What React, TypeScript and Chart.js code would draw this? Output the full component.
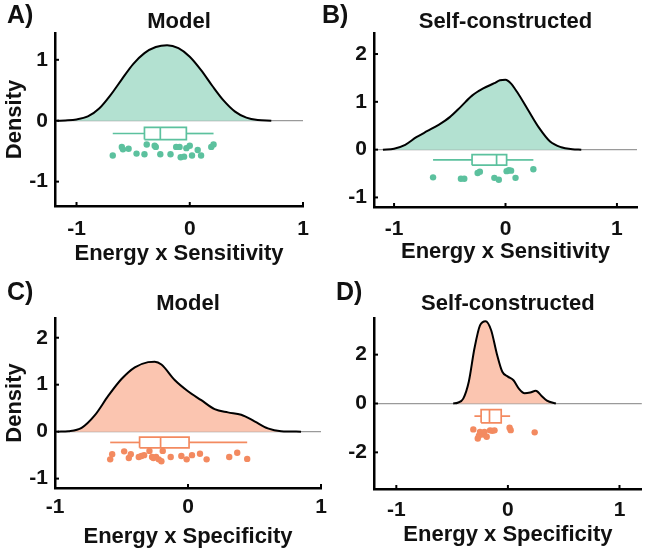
import React, { useEffect, useRef } from "react";
import { Chart, registerables } from "chart.js";
Chart.register(...registerables);

const FONT = '"Liberation Sans", Arial, Helvetica, sans-serif';

// ---------- Panel A: Model, Energy x Sensitivity ----------
const densA_x = [-1.17, -1.1, -1.0, -0.9, -0.8, -0.7, -0.6, -0.5, -0.4, -0.3, -0.2, -0.1, 0, 0.1, 0.2, 0.3, 0.4, 0.5, 0.6, 0.72];
const densA_y = [0, 0.005, 0.02, 0.07, 0.2, 0.42, 0.68, 0.93, 1.11, 1.21, 1.24, 1.19, 1.05, 0.83, 0.57, 0.33, 0.15, 0.05, 0.01, 0];
const boxA = [-0.68, -0.4, -0.26, -0.03, 0.21]; // whisker low, Q1, median, Q3, whisker high
const ptsA_x = [-0.68, -0.6, -0.59, -0.54, -0.47, -0.4, -0.38, -0.31, -0.3, -0.26, -0.17, -0.12, -0.09, -0.08, -0.05, -0.03, 0.0, 0.02, 0.07, 0.1, 0.19, 0.21];
const ptsA_y = [-0.57, -0.43, -0.47, -0.46, -0.54, -0.55, -0.39, -0.41, -0.43, -0.55, -0.55, -0.43, -0.43, -0.6, -0.59, -0.45, -0.41, -0.57, -0.48, -0.57, -0.43, -0.39];
const xTicksA = [-1, 0, 1];
const yTicksA = [-1, 0, 1];

// ---------- Panel B: Self-constructed, Energy x Sensitivity ----------
const densB_x = [-1.1, -1.0, -0.9, -0.8, -0.7, -0.6, -0.5, -0.4, -0.3, -0.2, -0.1, -0.05, 0, 0.05, 0.1, 0.2, 0.3, 0.4, 0.5, 0.6, 0.68];
const densB_y = [0, 0.02, 0.1, 0.26, 0.39, 0.52, 0.68, 0.9, 1.13, 1.28, 1.39, 1.45, 1.46, 1.38, 1.22, 0.84, 0.46, 0.17, 0.05, 0.01, 0];
const boxB = [-0.65, -0.3, -0.08, 0.01, 0.25];
const ptsB_x = [-0.65, -0.4, -0.37, -0.25, -0.23, -0.1, -0.06, 0.01, 0.03, 0.05, 0.09, 0.25];
const ptsB_y = [-0.58, -0.61, -0.61, -0.49, -0.46, -0.59, -0.63, -0.45, -0.43, -0.44, -0.59, -0.41];
const xTicksB = [-1, 0, 1];
const yTicksB = [-1, 0, 1, 2];

// ---------- Panel C: Model, Energy x Specificity ----------
const densC_x = [-0.98, -0.9, -0.8, -0.7, -0.6, -0.5, -0.4, -0.3, -0.25, -0.2, -0.1, 0, 0.1, 0.2, 0.3, 0.4, 0.5, 0.6, 0.7, 0.85];
const densC_y = [0, 0.01, 0.08, 0.35, 0.76, 1.12, 1.37, 1.48, 1.49, 1.43, 1.1, 0.86, 0.67, 0.48, 0.41, 0.36, 0.22, 0.07, 0.01, 0];
const boxC = [-0.585, -0.364, -0.206, 0.008, 0.445];
const ptsC_x = [-0.585, -0.57, -0.48, -0.445, -0.43, -0.37, -0.35, -0.33, -0.29, -0.27, -0.26, -0.24, -0.22, -0.2, -0.19, -0.13, -0.05, -0.01, 0.03, 0.09, 0.14, 0.31, 0.37, 0.445];
const ptsC_y = [-0.59, -0.48, -0.42, -0.56, -0.48, -0.54, -0.52, -0.5, -0.41, -0.54, -0.56, -0.54, -0.59, -0.63, -0.41, -0.54, -0.52, -0.59, -0.5, -0.47, -0.59, -0.54, -0.45, -0.58];
const xTicksC = [-1, 0, 1];
const yTicksC = [-1, 0, 1, 2];

// ---------- Panel D: Self-constructed, Energy x Specificity ----------
const densD_x = [-0.49, -0.45, -0.4, -0.35, -0.3, -0.25, -0.2, -0.15, -0.1, -0.05, 0, 0.05, 0.1, 0.15, 0.2, 0.25, 0.3, 0.35, 0.43];
const densD_y = [0, 0.03, 0.2, 0.9, 2.25, 3.2, 3.37, 3.0, 2.05, 1.3, 1.1, 0.95, 0.6, 0.42, 0.45, 0.52, 0.32, 0.12, 0];
const boxD = [-0.3, -0.24, -0.165, -0.06, 0.02];
const ptsD_x = [-0.31, -0.27, -0.26, -0.25, -0.22, -0.21, -0.19, -0.16, -0.14, -0.12, 0.015, 0.025, 0.24];
const ptsD_y = [-1.06, -1.43, -1.32, -1.16, -1.27, -1.16, -1.36, -1.1, -1.12, -1.1, -0.99, -1.09, -1.18];
const xTicksD = [-1, 0, 1];
const yTicksD = [-2, 0, 2];

const TEAL_FILL = "rgb(179,225,209)";
const TEAL = "rgb(92,193,158)";
const ORANGE_FILL = "rgb(251,197,176)";
const ORANGE = "rgb(243,138,96)";

type PanelCfg = {
  label: string; title: string; xTitle: string; yTitle: string | null;
  dx: number[]; dy: number[]; box: number[]; px: number[]; py: number[];
  xt: number[]; yt: number[];
  xmin: number; xmax: number; ymin: number; ymax: number;
  L: number; T: number; R: number; B: number; yW: number; xH: number;
  boxY: number; boxH: number; fill: string; accent: string;
  labelX: number; labelY: number; titleY: number; xTickPad: number; yTickPad: number;
};

const panels: PanelCfg[] = [
  {
    label: "A)", title: "Model", xTitle: "Energy x Sensitivity", yTitle: "Density",
    dx: densA_x, dy: densA_y, box: boxA, px: ptsA_x, py: ptsA_y, xt: xTicksA, yt: yTicksA,
    xmin: -1.19, xmax: 1, ymin: -1.4, ymax: 1.44,
    L: 55, T: 33, R: 303, B: 206, yW: 55, xH: 69,
    boxY: -0.21, boxH: 0.1, fill: TEAL_FILL, accent: TEAL,
    labelX: 7, labelY: 23, titleY: 28, xTickPad: 11, yTickPad: 7,
  },
  {
    label: "B)", title: "Self-constructed", xTitle: "Energy x Sensitivity", yTitle: null,
    dx: densB_x, dy: densB_y, box: boxB, px: ptsB_x, py: ptsB_y, xt: xTicksB, yt: yTicksB,
    xmin: -1.18, xmax: 1.18, ymin: -1.2, ymax: 2.44,
    L: 374, T: 33, R: 637, B: 207, yW: 52, xH: 66,
    boxY: -0.215, boxH: 0.11, fill: TEAL_FILL, accent: TEAL,
    labelX: 322, labelY: 23, titleY: 28, xTickPad: 10, yTickPad: 7,
  },
  {
    label: "C)", title: "Model", xTitle: "Energy x Specificity", yTitle: "Density",
    dx: densC_x, dy: densC_y, box: boxC, px: ptsC_x, py: ptsC_y, xt: xTicksC, yt: yTicksC,
    xmin: -1, xmax: 1, ymin: -1.2, ymax: 2.42,
    L: 55, T: 318, R: 321, B: 488, yW: 55, xH: 70,
    boxY: -0.23, boxH: 0.115, fill: ORANGE_FILL, accent: ORANGE,
    labelX: 7, labelY: 300, titleY: 310, xTickPad: 7, yTickPad: 7,
  },
  {
    label: "D)", title: "Self-constructed", xTitle: "Energy x Specificity", yTitle: null,
    dx: densD_x, dy: densD_y, box: boxD, px: ptsD_x, py: ptsD_y, xt: xTicksD, yt: yTicksD,
    xmin: -1.2, xmax: 1.2, ymin: -3.5, ymax: 3.5,
    L: 374, T: 318, R: 642, B: 489, yW: 52, xH: 67,
    boxY: -0.52, boxH: 0.27, fill: ORANGE_FILL, accent: ORANGE,
    labelX: 336, labelY: 300, titleY: 310, xTickPad: 9, yTickPad: 7,
  },
];

const W = 645;
const H = 552;

const zip = (xs: number[], ys: number[]) => xs.map((x, i) => ({ x, y: ys[i] }));

const inTicksPlugin = {
  id: "inTicks",
  afterDatasetsDraw(chart: any) {
    const { ctx, chartArea: a, scales } = chart;
    const x = scales.x;
    const y = scales.y;
    ctx.save();
    ctx.strokeStyle = "#000";
    ctx.lineWidth = 2;
    x.ticks.forEach((t: any) => {
      const p = x.getPixelForValue(t.value);
      ctx.beginPath();
      ctx.moveTo(p, a.bottom);
      ctx.lineTo(p, a.bottom - 4);
      ctx.stroke();
    });
    y.ticks.forEach((t: any) => {
      const p = y.getPixelForValue(t.value);
      ctx.beginPath();
      ctx.moveTo(a.left, p);
      ctx.lineTo(a.left + 4, p);
      ctx.stroke();
    });
    ctx.restore();
  },
};

const panelTextPlugin = {
  id: "panelText",
  afterDraw(chart: any, _args: any, opts: any) {
    const { ctx, chartArea: a } = chart;
    ctx.save();
    ctx.fillStyle = "#111";
    ctx.textBaseline = "alphabetic";
    ctx.font = `bold 25px ${FONT}`;
    ctx.textAlign = "left";
    ctx.fillText(opts.label, opts.labelX, opts.labelY);
    ctx.font = `bold 22px ${FONT}`;
    ctx.textAlign = "center";
    ctx.fillText(opts.title, (a.left + a.right) / 2, opts.titleY);
    ctx.restore();
  },
};

function buildConfig(p: PanelCfg): any {
  const [lo, q1, med, q3, hi] = p.box;
  const c = p.boxY;
  const h = p.boxH;
  const boxLine = {
    type: "line", borderColor: p.accent, borderWidth: 1.7, pointRadius: 0,
    fill: false, tension: 0, borderJoinStyle: "miter",
  };
  const datasets: any[] = [
    {
      type: "scatter", data: zip(p.px, p.py), backgroundColor: p.accent,
      borderWidth: 0, pointRadius: 3.2, pointHoverRadius: 3.2,
    },
    { ...boxLine, data: [{ x: lo, y: c }, { x: q1, y: c }] },
    { ...boxLine, data: [{ x: q3, y: c }, { x: hi, y: c }] },
    {
      ...boxLine,
      data: [
        { x: q1, y: c - h }, { x: q3, y: c - h }, { x: q3, y: c + h },
        { x: q1, y: c + h }, { x: q1, y: c - h },
      ],
    },
    { ...boxLine, data: [{ x: med, y: c - h }, { x: med, y: c + h }] },
    {
      type: "line", data: zip(p.dx, p.dy), fill: "origin", backgroundColor: p.fill,
      borderColor: "#000", borderWidth: 2, pointRadius: 0, cubicInterpolationMode: "monotone",
    },
  ];
  const tickFont = { family: FONT, size: 21, weight: "bold" };
  const titleFont = { family: FONT, size: 22, weight: "bold" };
  return {
    type: "line",
    data: { datasets },
    plugins: [inTicksPlugin, panelTextPlugin],
    options: {
      animation: false,
      responsive: false,
      devicePixelRatio: 1,
      events: [],
      layout: {
        padding: {
          left: p.L - p.yW,
          top: p.T,
          right: W - p.R,
          bottom: H - p.B - p.xH,
        },
      },
      plugins: {
        legend: { display: false },
        tooltip: { enabled: false },
        title: { display: false },
        panelText: {
          label: p.label, title: p.title, labelX: p.labelX, labelY: p.labelY, titleY: p.titleY,
        },
      },
      scales: {
        x: {
          type: "linear",
          position: "bottom",
          min: p.xmin,
          max: p.xmax,
          afterBuildTicks: (s: any) => {
            s.ticks = p.xt.map((v) => ({ value: v }));
          },
          afterFit: (s: any) => {
            s.height = p.xH;
            s.paddingLeft = 0;
            s.paddingRight = 0;
          },
          grid: { display: false, drawTicks: false },
          border: { display: true, color: "#000", width: 2.5 },
          ticks: {
            font: tickFont, color: "#111", padding: p.xTickPad, maxRotation: 0,
            autoSkip: false, callback: (v: any) => String(v),
          },
          title: {
            display: true, text: p.xTitle, font: titleFont, color: "#111",
            padding: { top: 0, bottom: 8 },
          },
        },
        y: {
          type: "linear",
          position: "left",
          min: p.ymin,
          max: p.ymax,
          afterBuildTicks: (s: any) => {
            s.ticks = p.yt.map((v) => ({ value: v }));
          },
          afterFit: (s: any) => {
            s.width = p.yW;
            s.paddingTop = 0;
            s.paddingBottom = 0;
          },
          grid: {
            display: true,
            drawTicks: false,
            lineWidth: 1.2,
            color: (ctx: any) =>
              ctx.tick && ctx.tick.value === 0 ? "#9a9a9a" : "rgba(0,0,0,0)",
          },
          border: { display: true, color: "#000", width: 2.5 },
          ticks: {
            font: tickFont, color: "#111", padding: p.yTickPad,
            autoSkip: false, callback: (v: any) => String(v),
          },
          title: {
            display: !!p.yTitle, text: p.yTitle || "", font: titleFont, color: "#111",
            padding: { top: 2, bottom: 0 },
          },
        },
      },
    },
  };
}

function Panel({ cfg }: { cfg: PanelCfg }) {
  const ref = useRef<HTMLCanvasElement | null>(null);
  useEffect(() => {
    if (!ref.current) return;
    const chart = new Chart(ref.current, buildConfig(cfg));
    return () => chart.destroy();
  }, [cfg]);
  return (
    <canvas
      ref={ref}
      width={W}
      height={H}
      style={{ position: "absolute", left: 0, top: 0, width: W, height: H }}
    />
  );
}

export default function App() {
  return (
    <div
      style={{
        position: "fixed", left: 0, top: 0, width: W, height: H,
        background: "#fff", overflow: "hidden",
      }}
    >
      {panels.map((p) => (
        <Panel key={p.label} cfg={p} />
      ))}
    </div>
  );
}
